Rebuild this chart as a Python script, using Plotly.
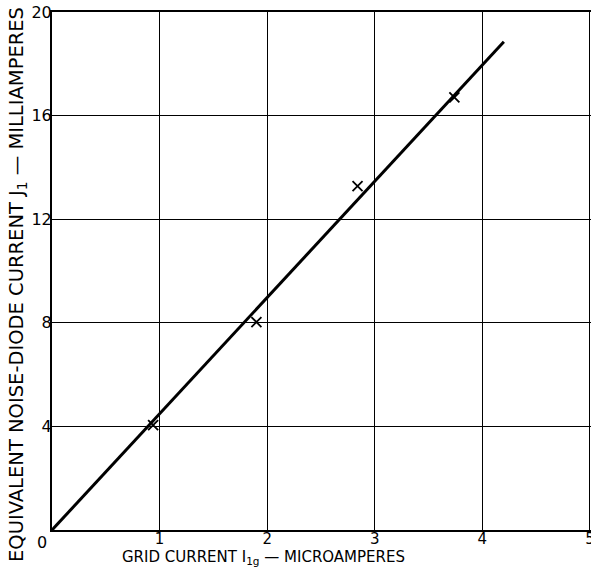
import plotly.graph_objects as go

# data
grid_current = [0.94, 1.90, 2.84, 3.74]
noise_current = [4.05, 8.03, 13.28, 16.7]
fit_x = [0, 4.2]
fit_y = [0, 18.85]
x_ticks = [1, 2, 3, 4, 5]
y_ticks = [4, 8, 12, 16, 20]

FONT = "DejaVu Sans"
W, H = 591, 569
L, T = 52, 12
PW, PH = 539, 518
R, B = W - L - PW, H - T - PH
BOT = T + PH  # pixel y of x axis


def px(xp):
    return (xp - L) / PW


def py(yp):
    return (BOT - yp) / PH


fig = go.Figure()
fig.add_trace(go.Scatter(x=fit_x, y=fit_y, mode="lines",
                         line=dict(color="black", width=3), showlegend=False))
fig.add_trace(go.Scatter(x=grid_current, y=noise_current, mode="markers",
                         marker=dict(symbol="x-thin", size=10,
                                     line=dict(color="black", width=1.8)),
                         showlegend=False))

fig.update_xaxes(range=[0, 5.01], tickvals=x_ticks, ticktext=[str(v) for v in x_ticks],
                 showgrid=True, gridcolor="black", gridwidth=1,
                 showline=True, linecolor="black", linewidth=2, mirror=True,
                 zeroline=False, ticks="", ticklen=0, automargin=False,
                 ticklabelstandoff=-6, ticklabeloverflow="allow",
                 tickfont=dict(family=FONT, size=15, color="black"))
fig.update_yaxes(range=[0, 20], tickvals=y_ticks, ticktext=[str(v) for v in y_ticks],
                 showgrid=True, gridcolor="black", gridwidth=1,
                 showline=True, linecolor="black", linewidth=2, mirror=True,
                 zeroline=False, ticks="", ticklen=0, automargin=False,
                 ticklabelstandoff=-5, ticklabeloverflow="allow",
                 tickfont=dict(family=FONT, size=16, color="black"))

fig.add_annotation(text="0", x=0, y=0, xref="x", yref="y", showarrow=False,
                   xanchor="right", yanchor="top", xshift=-3, yshift=-1,
                   font=dict(family=FONT, size=16, color="black"))
fig.add_annotation(text="GRID CURRENT I<sub>1g</sub> — MICROAMPERES",
                   x=px(263), y=py(557),
                   xref="paper", yref="paper", showarrow=False,
                   xanchor="center", yanchor="middle",
                   font=dict(family=FONT, size=15, color="black"))
fig.add_annotation(text="EQUIVALENT NOISE-DIODE CURRENT J<sub>1</sub> — MILLIAMPERES",
                   x=px(17), y=py(285),
                   xref="paper", yref="paper", showarrow=False,
                   textangle=-90, xanchor="center", yanchor="middle",
                   font=dict(family=FONT, size=19.5, color="black"))

fig.update_layout(width=W, height=H,
                  margin=dict(l=L, r=R, t=T, b=B, autoexpand=False),
                  plot_bgcolor="white", paper_bgcolor="white")
fig.write_html("out.html", config={"displayModeBar": False},
               post_script="document.body.style.margin='0';document.body.style.overflow='hidden';")
